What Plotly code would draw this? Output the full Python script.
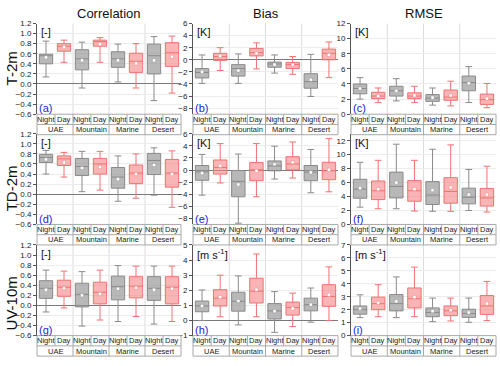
import plotly.graph_objects as go
from plotly.subplots import make_subplots

regions = ["UAE", "Mountain", "Marine", "Desert"]
periods = ["Night", "Day"]
variables = ["T-2m", "TD-2m", "UV-10m"]
metrics = ["Correlation", "Bias", "RMSE"]
units = ["[-]", "[K]", "[K]", "[-]", "[K]", "[K]", "[-]", "[m s<sup>-1</sup>]", "[m s<sup>-1</sup>]"]
letters = ["(a)", "(b)", "(c)", "(d)", "(e)", "(f)", "(g)", "(h)", "(i)"]

# box stats, order: UAE N/D, Mountain N/D, Marine N/D, Desert N/D
# (a) T-2m correlation
a_low = [0.14, 0.43, -0.08, 0.43, 0.04, -0.08, -0.33, -0.18]
a_q1 = [0.40, 0.65, 0.28, 0.75, 0.33, 0.23, 0.20, 0.35]
a_med = [0.56, 0.75, 0.50, 0.84, 0.50, 0.45, 0.56, 0.62]
a_q3 = [0.59, 0.80, 0.68, 0.87, 0.64, 0.61, 0.79, 0.82]
a_high = [0.85, 0.87, 0.83, 0.92, 0.79, 0.80, 0.94, 0.95]
a_mean = [0.53, 0.73, 0.47, 0.79, 0.47, 0.41, 0.47, 0.54]

# (b) T-2m bias
b_low = [-3.9, -1.77, -3.9, -1.5, -2.2, -2.4, -6.06, -2.95]
b_q1 = [-3.0, -0.1, -2.7, 0.64, -1.23, -1.45, -4.7, 0.0]
b_med = [-2.1, 0.54, -1.45, 1.18, -0.7, -0.8, -3.6, 1.07]
b_q3 = [-1.45, 1.07, -0.8, 1.88, -0.38, -0.43, -2.3, 1.77]
b_high = [0.8, 2.0, 0.97, 2.8, 0.8, 0.54, 0.9, 2.95]
b_mean = [-2.0, 0.64, -1.77, 1.07, -0.8, -0.8, -3.3, 0.8]

# (c) T-2m RMSE
c_low = [2.0, 1.54, 1.76, 1.54, 1.2, 1.1, 1.54, 0.86]
c_q1 = [2.7, 2.06, 2.4, 2.06, 1.7, 1.84, 3.1, 1.3]
c_med = [3.4, 2.4, 3.1, 2.4, 2.14, 2.27, 4.2, 1.93]
c_q3 = [4.0, 2.9, 3.7, 2.83, 2.6, 3.2, 5.05, 2.66]
c_high = [4.84, 3.47, 4.7, 3.7, 3.47, 4.37, 6.3, 4.07]
c_mean = [3.4, 2.4, 3.1, 2.5, 2.2, 2.5, 4.1, 2.06]

# (d) TD-2m correlation
d_low = [0.40, 0.34, 0.05, 0.08, -0.14, -0.08, -0.02, -0.26]
d_q1 = [0.63, 0.57, 0.37, 0.40, 0.12, 0.21, 0.39, 0.14]
d_med = [0.73, 0.70, 0.55, 0.60, 0.34, 0.42, 0.67, 0.42]
d_q3 = [0.79, 0.76, 0.71, 0.71, 0.53, 0.58, 0.81, 0.69]
d_high = [0.87, 0.83, 0.85, 0.85, 0.76, 0.80, 0.92, 0.86]
d_mean = [0.69, 0.63, 0.52, 0.54, 0.30, 0.40, 0.58, 0.40]

# (e) TD-2m bias
e_low = [-4.15, -2.14, -8.8, -4.42, -1.49, -1.32, -3.76, -3.6]
e_q1 = [-1.7, -0.67, -4.42, -1.76, -0.13, 0.03, -1.76, -1.6]
e_med = [-0.3, 0.41, -1.87, 0.03, 0.68, 1.0, -0.35, -0.13]
e_q3 = [0.74, 1.66, -0.08, 1.23, 1.5, 2.2, 0.74, 1.28]
e_high = [2.58, 4.37, 2.64, 4.37, 3.94, 4.64, 3.4, 5.19]
e_mean = [-0.5, 0.68, -2.4, -0.13, 0.95, 1.28, -0.4, 0.03]

# (f) TD-2m RMSE
f_low = [2.48, 2.25, 2.25, 1.92, 1.88, 1.88, 2.0, 1.78]
f_q1 = [3.75, 3.56, 3.8, 3.33, 2.86, 3.05, 2.95, 2.63]
f_med = [5.06, 4.83, 5.44, 4.83, 4.22, 4.73, 3.9, 3.8]
f_q3 = [6.47, 6.23, 7.5, 6.28, 6.14, 6.7, 5.2, 5.16]
f_high = [8.9, 9.19, 11.5, 9.19, 10.78, 11.4, 7.88, 8.34]
f_mean = [5.2, 5.06, 6.0, 5.06, 4.92, 5.3, 4.27, 4.27]

# (g) UV-10m correlation
g_low = [-0.13, -0.05, -0.41, -0.29, -0.32, -0.22, -0.37, -0.32]
g_q1 = [0.14, 0.18, -0.03, 0.03, 0.11, 0.15, 0.10, 0.03]
g_med = [0.34, 0.36, 0.22, 0.26, 0.37, 0.38, 0.34, 0.36]
g_q3 = [0.49, 0.50, 0.44, 0.46, 0.58, 0.57, 0.57, 0.57]
g_high = [0.70, 0.68, 0.67, 0.70, 0.79, 0.78, 0.78, 0.78]
g_mean = [0.31, 0.34, 0.20, 0.23, 0.33, 0.35, 0.31, 0.33]

# (h) UV-10m bias
h_low = [0.0, 0.25, -0.29, 0.25, -0.78, -0.4, -0.11, 0.0]
h_q1 = [0.58, 0.96, 0.62, 1.16, 0.1, 0.36, 0.64, 0.94]
h_med = [0.96, 1.48, 1.27, 1.94, 0.64, 0.86, 1.05, 1.59]
h_q3 = [1.29, 2.04, 1.87, 2.8, 1.12, 1.22, 1.48, 2.37]
h_high = [2.02, 3.0, 2.95, 4.4, 1.91, 1.81, 2.15, 3.55]
h_mean = [0.96, 1.55, 1.29, 2.04, 0.62, 0.79, 1.05, 1.7]

# (i) UV-10m RMSE
i_low = [1.39, 1.46, 1.39, 1.46, 1.08, 1.13, 1.03, 1.16]
i_q1 = [1.66, 2.0, 1.91, 2.14, 1.46, 1.54, 1.41, 1.64]
i_med = [2.0, 2.47, 2.47, 2.85, 1.79, 1.91, 1.71, 2.29]
i_q3 = [2.29, 2.97, 3.17, 3.68, 2.14, 2.29, 2.04, 3.1]
i_high = [3.15, 3.93, 4.53, 5.29, 2.9, 2.9, 2.9, 4.18]
i_mean = [2.09, 2.54, 2.64, 2.97, 1.89, 1.96, 1.79, 2.47]

panels = [
    (a_low, a_q1, a_med, a_q3, a_high, a_mean),
    (b_low, b_q1, b_med, b_q3, b_high, b_mean),
    (c_low, c_q1, c_med, c_q3, c_high, c_mean),
    (d_low, d_q1, d_med, d_q3, d_high, d_mean),
    (e_low, e_q1, e_med, e_q3, e_high, e_mean),
    (f_low, f_q1, f_med, f_q3, f_high, f_mean),
    (g_low, g_q1, g_med, g_q3, g_high, g_mean),
    (h_low, h_q1, h_med, h_q3, h_high, h_mean),
    (i_low, i_q1, i_med, i_q3, i_high, i_mean),
]
yranges = [[-0.6, 1.2], [-9, 6], [0, 12],
           [-0.6, 1.2], [-9, 6], [0, 13],
           [-0.6, 1.2], [-1, 5], [0, 7]]
dticks = [0.2, 2, 2, 0.2, 2, 2, 0.2, 1, 1]

cats = [r + " " + p for r in regions for p in periods]

W, H = 500, 366
col_px = [(37, 181), (193, 338), (351, 496)]
row_px = [(20, 113), (133, 226), (247, 340)]
FONT = "Arial, Liberation Sans, sans-serif"

colors = {
    "Night": ("rgba(150,150,150,0.68)", "#8a8a8a"),
    "Day": ("rgba(246,135,135,0.62)", "#ee7272"),
}

fig = make_subplots(rows=3, cols=3)

shapes = []
annos = []
tbl = "#a8a8a8"

for k, stats in enumerate(panels):
    r, c = k // 3, k % 3
    low, q1, med, q3, high, mean = stats
    for j, p in enumerate(periods):
        idx = list(range(j, 8, 2))
        fill, line = colors[p]
        fig.add_trace(go.Box(
            x=[cats[i] for i in idx],
            lowerfence=[low[i] for i in idx],
            q1=[q1[i] for i in idx],
            median=[med[i] for i in idx],
            q3=[q3[i] for i in idx],
            upperfence=[high[i] for i in idx],
            orientation="v",
            fillcolor=fill,
            line=dict(color=line, width=1),
            width=0.74,
            whiskerwidth=0.5,
            boxpoints=False,
            showlegend=False,
            hoverinfo="skip",
        ), row=r + 1, col=c + 1)
        fig.add_trace(go.Scatter(
            x=[cats[i] for i in idx],
            y=[mean[i] for i in idx],
            mode="markers",
            marker=dict(symbol="square", size=3.2, color="white",
                        line=dict(color=line, width=0.4)),
            showlegend=False,
            hoverinfo="skip",
        ), row=r + 1, col=c + 1)

    x0, x1 = col_px[c]
    y0, y1 = row_px[r]
    ph = y1 - y0
    fig.update_xaxes(domain=[x0 / W, x1 / W], type="category",
                     categoryorder="array", categoryarray=cats,
                     range=[-0.5, 7.5], showticklabels=False,
                     showgrid=False, zeroline=False, showline=False,
                     ticks="", row=r + 1, col=c + 1)
    fig.update_yaxes(domain=[1 - y1 / H, 1 - y0 / H], range=yranges[k],
                     dtick=dticks[k], tick0=0,
                     tickformat=".1f" if c == 0 else "d",
                     showgrid=True, gridcolor="#ececec", gridwidth=1,
                     zeroline=(c != 2), zerolinecolor="#7a7a7a", zerolinewidth=1,
                     showline=True, linecolor="#555555", linewidth=1,
                     ticks="outside", ticklen=3, tickcolor="#555555",
                     tickfont=dict(size=8, color="#222222", family=FONT),
                     row=r + 1, col=c + 1)

    n = "" if k == 0 else str(k + 1)
    xd, yd = "x" + n + " domain", "y" + n + " domain"
    h1 = 10.5 / ph
    h2 = 21.0 / ph

    # region separators inside the plot
    for q in (0.25, 0.5, 0.75):
        shapes.append(dict(type="line", xref=xd, yref=yd, x0=q, x1=q, y0=0, y1=1,
                           line=dict(color="#dcdcdc", width=1), layer="below"))
    # label table
    for yy in (0, -h1, -h2):
        shapes.append(dict(type="line", xref=xd, yref=yd, x0=0, x1=1, y0=yy, y1=yy,
                           line=dict(color=tbl, width=1)))
    for q in range(9):
        shapes.append(dict(type="line", xref=xd, yref=yd, x0=q / 8, x1=q / 8,
                           y0=0, y1=-h1, line=dict(color=tbl, width=1)))
    for q in range(5):
        shapes.append(dict(type="line", xref=xd, yref=yd, x0=q / 4, x1=q / 4,
                           y0=-h1, y1=-h2, line=dict(color=tbl, width=1)))
    for i, cat in enumerate(cats):
        annos.append(dict(xref="x" + n, yref=yd, x=cat, y=-h1 / 2, text=periods[i % 2],
                          showarrow=False, xanchor="center", yanchor="middle",
                          font=dict(size=7.5, color="#222222", family=FONT)))
    for q, reg in enumerate(regions):
        annos.append(dict(xref=xd, yref=yd, x=(2 * q + 1) / 8, y=-(h1 + h2) / 2, text=reg,
                          showarrow=False, xanchor="center", yanchor="middle",
                          font=dict(size=7.5, color="#222222", family=FONT)))
    # unit and panel letter
    annos.append(dict(xref=xd, yref=yd, x=0.015, y=1 - 9 / ph, text=units[k],
                      showarrow=False, xanchor="left", yanchor="middle",
                      font=dict(size=11, color="#111111", family=FONT)))
    annos.append(dict(xref=xd, yref=yd, x=0.0, y=6 / ph, text=letters[k],
                      showarrow=False, xanchor="left", yanchor="middle",
                      font=dict(size=11, color="#2222dd", family=FONT)))

for c, m in enumerate(metrics):
    x0, x1 = col_px[c]
    annos.append(dict(xref="paper", yref="paper", x=(x0 + x1) / 2 / W, y=1 - 10 / H,
                      text=m, showarrow=False, xanchor="center", yanchor="middle",
                      font=dict(size=13, color="#111111", family=FONT)))

row_label_y = [66, 189, 307]
for r, v in enumerate(variables):
    annos.append(dict(xref="paper", yref="paper", x=11 / W, y=1 - row_label_y[r] / H,
                      text=v, textangle=-90, showarrow=False,
                      xanchor="center", yanchor="middle",
                      font=dict(size=15, color="#111111", family=FONT)))

fig.update_layout(
    width=W, height=H,
    margin=dict(l=0, r=0, t=0, b=0),
    paper_bgcolor="white", plot_bgcolor="white",
    boxmode="overlay",
    shapes=shapes, annotations=annos,
    font=dict(family=FONT),
)

# drop the browser's default page margin so the figure sits at the window corner
fig.write_html("out.html", config={"displayModeBar": False},
               post_script="document.body.style.margin='0';")
